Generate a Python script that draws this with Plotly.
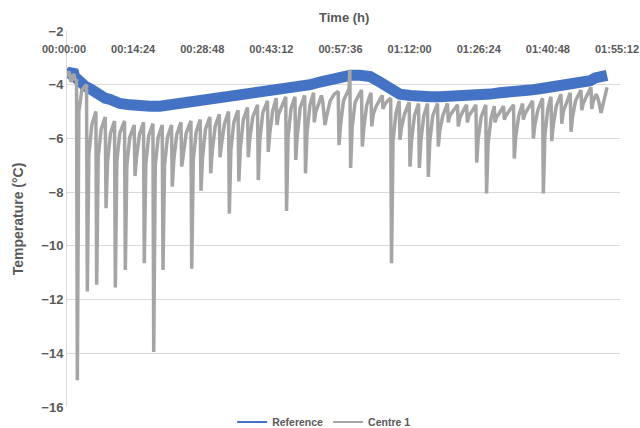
import plotly.graph_objects as go

# ---- data (time in seconds from start, temperature in °C) ----
ref_time = [0, 40, 75, 95, 160, 225, 290, 350, 410, 475, 540, 600, 660, 790,
            910, 1040, 1160, 1290, 1410, 1540, 1660, 1790, 1920, 2040, 2160,
            2290, 2410, 2540, 2660, 2790, 2910, 3040, 3160, 3290, 3410, 3540,
            3660, 3790, 3910, 4040, 4160, 4290, 4410, 4540, 4660, 4790, 4910,
            5040, 5160, 5290, 5410, 5540, 5660, 5790, 5910, 6040, 6160, 6290, 6410, 6540,
            6600, 6660, 6750]
ref_temp = [-3.75, -3.6, -3.45, -3.7, -3.9, -4.05, -4.15, -4.3, -4.4, -4.5, -4.55, -4.65,
            -4.7, -4.75, -4.8, -4.8, -4.8, -4.75, -4.7, -4.65, -4.6, -4.55,
            -4.5, -4.45, -4.4, -4.35, -4.3, -4.2, -4.15, -4.1,
            -4.05, -4.0, -3.9, -3.8, -3.7, -3.65, -3.65, -3.7, -3.9, -4.15, -4.35, -4.4,
            -4.45, -4.45, -4.45, -4.45, -4.4, -4.4, -4.35, -4.35, -4.3, -4.3,
            -4.25, -4.2, -4.15, -4.1, -4.0, -3.95, -3.9, -3.85, -3.75, -3.75, -3.65]

centre_time = [
    0, 25, 50, 85, 105, 119, 129, 148, 185, 244, 254, 273, 310, 361, 371, 390, 427,
    478, 488, 507, 544, 594, 604, 623, 660, 719, 729, 748, 785, 840, 850, 869, 906,
    956, 966, 985, 1022, 1074, 1084, 1103, 1140, 1190, 1200, 1219, 1256, 1306, 1316,
    1335, 1372, 1424, 1434, 1453, 1490, 1549, 1559, 1578, 1615, 1665, 1675, 1694,
    1731, 1786, 1796, 1815, 1852, 1903, 1913, 1932, 1969, 2019, 2029, 2048, 2085,
    2138, 2148, 2167, 2204, 2256, 2266, 2285, 2322, 2381, 2391, 2410, 2447, 2506,
    2516, 2535, 2572, 2615, 2625, 2644, 2681, 2734, 2744, 2763, 2800, 2849, 2859,
    2878, 2915, 2971, 2981, 3000, 3037, 3081, 3091, 3110, 3147, 3180, 3195, 3225,
    3250, 3290, 3340, 3390, 3400, 3419, 3456, 3525, 3535, 3545, 3564, 3601, 3681,
    3691, 3710, 3747, 3799, 3809, 3828, 3865, 3940, 3950, 3969, 4006, 4046, 4056,
    4075, 4112, 4152, 4162, 4181, 4218, 4277, 4287, 4306, 4343, 4394, 4404, 4423,
    4460, 4506, 4516, 4535, 4572, 4631, 4641, 4660, 4697, 4756, 4766, 4785, 4822,
    4881, 4891, 4910, 4947, 4994, 5004, 5023, 5060, 5111, 5121, 5140, 5177, 5234,
    5244, 5263, 5300, 5340, 5350, 5369, 5406, 5456, 5466, 5485, 5522, 5581, 5591,
    5610, 5647, 5694, 5704, 5723, 5760, 5819, 5829, 5848, 5885, 5944, 5954, 5973,
    6010, 6049, 6059, 6078, 6115, 6174, 6184, 6203, 6240, 6290, 6300, 6319, 6356,
    6424, 6434, 6453, 6490, 6549, 6559, 6578, 6615, 6645, 6675, 6700, 6725, 6750]
centre_temp = [
    -3.7, -3.5, -3.9, -3.6, -3.85, -3.8, -15.0, -5.0, -4.2, -4.0, -11.7, -6.6, -5.5,
    -5.0, -11.45, -6.7, -5.65, -5.2, -8.6, -6.85, -5.8, -5.35, -11.55, -6.85, -5.8,
    -5.35, -10.9, -7.0, -5.95, -5.5, -7.4, -6.7, -5.85, -5.4, -10.65, -6.95, -5.9,
    -5.45, -13.95, -7.0, -5.95, -5.5, -10.9, -7.0, -5.95, -5.5, -7.8, -6.8, -5.85,
    -5.4, -7.05, -6.55, -5.8, -5.35, -10.85, -6.8, -5.75, -5.3, -7.95, -6.7, -5.65,
    -5.2, -7.3, -6.5, -5.55, -5.1, -6.7, -6.2, -5.45, -5.0, -8.8, -6.45, -5.4, -4.95,
    -7.6, -6.35, -5.3, -4.85, -6.7, -6.0, -5.2, -4.75, -7.55, -6.1, -5.05, -4.6,
    -6.5, -5.8, -4.95, -4.5, -5.5, -5.1, -4.8, -4.45, -8.7, -5.95, -4.9, -4.45, -6.8,
    -5.9, -4.85, -4.4, -7.3, -5.8, -4.75, -4.3, -5.4, -5.0, -4.7, -4.4, -4.6, -5.5,
    -5.1, -4.6, -4.35, -4.25, -6.25, -5.5, -4.6, -4.15, -3.45, -7.1, -5.6, -4.65,
    -4.2, -6.3, -5.6, -4.75, -4.3, -5.55, -5.1, -4.8, -4.4, -4.9, -4.75, -4.6, -4.5,
    -10.65, -6.1, -5.05, -4.6, -6.05, -5.6, -5.1, -4.65, -7.05, -6.1, -5.15, -4.7,
    -7.1, -6.1, -5.15, -4.7, -7.43, -6.1, -5.15, -4.7, -6.3, -5.7, -5.15, -4.7, -5.4,
    -5.15, -5.0, -4.75, -5.55, -5.25, -5.0, -4.75, -5.4, -5.15, -5.0, -4.75, -6.9,
    -6.0, -5.2, -4.75, -8.05, -6.2, -5.25, -4.8, -5.4, -5.2, -5.05, -4.8, -5.3,
    -5.15, -5.0, -4.75, -6.75, -5.9, -5.15, -4.7, -5.3, -5.1, -4.9, -4.6, -6.0, -5.5,
    -4.95, -4.5, -8.05, -5.9, -4.9, -4.45, -6.1, -5.5, -4.8, -4.35, -5.45, -5.0,
    -4.7, -4.3, -5.75, -5.2, -4.6, -4.2, -4.95, -4.7, -4.45, -4.1, -4.9, -4.6, -4.35,
    -4.6, -5.05, -4.7, -4.3, -4.1]

tick_seconds = [0, 864, 1728, 2592, 3456, 4320, 5184, 6048, 6912]
tick_labels = ["00:00:00", "00:14:24", "00:28:48", "00:43:12", "00:57:36",
               "01:12:00", "01:26:24", "01:40:48", "01:55:12"]
y_ticks = [-2, -4, -6, -8, -10, -12, -14, -16]

BLUE = "#4472C4"
GREY = "#A5A5A5"
TXT = "#595959"
FONT = "Liberation Sans"

fig = go.Figure()
fig.add_trace(go.Scatter(x=ref_time, y=ref_temp, mode="lines", name="Reference",
                         line=dict(color=BLUE, width=11), showlegend=False))
fig.add_trace(go.Scatter(x=centre_time, y=centre_temp, mode="lines", name="Centre 1",
                         line=dict(color=GREY, width=3.5), showlegend=False))
# legend entries (thin line samples)
fig.add_trace(go.Scatter(x=[None], y=[None], mode="lines", name="Reference",
                         line=dict(color=BLUE, width=2)))
fig.add_trace(go.Scatter(x=[None], y=[None], mode="lines", name="Centre 1",
                         line=dict(color=GREY, width=2)))

fig.update_layout(
    width=640, height=428,
    margin=dict(l=67, r=20, t=31, b=21),
    paper_bgcolor="white", plot_bgcolor="white",
    font=dict(family=FONT, color=TXT, size=12),
    showlegend=True,
    legend=dict(orientation="h", x=0.465, xanchor="center",
                yref="container", y=0.014, yanchor="middle",
                font=dict(size=10.5, family=FONT, color=TXT, weight="bold"),
                itemwidth=30, bgcolor="rgba(0,0,0,0)"),
    annotations=[
        dict(text="<b>Time (h)</b>", xref="paper", yref="paper", x=0.5, y=1.037,
             showarrow=False, font=dict(size=13, family=FONT, color=TXT),
             xanchor="center", yanchor="middle"),
        dict(text="<b>Temperature (°C)</b>", xref="paper", yref="paper", x=-0.088,
             y=0.5, textangle=-90, showarrow=False,
             font=dict(size=14, family=FONT, color=TXT),
             xanchor="center", yanchor="middle"),
    ],
)
fig.update_xaxes(
    range=[0, 6912], side="top", anchor="free", position=0.935,
    tickvals=tick_seconds, ticktext=tick_labels, automargin=False,
    ticklabeloverflow="allow", ticklabelshift=-3,
    ticks="", showgrid=False, zeroline=False, showline=False,
    tickfont=dict(size=11, family=FONT, color=TXT, weight="bold"),
)
fig.update_yaxes(
    range=[-16, -2], tickvals=y_ticks, ticks="", showgrid=True, gridcolor="#D9D9D9",
    gridwidth=1, zeroline=False, showline=True, linecolor="#D9D9D9", linewidth=1,
    automargin=False,
    tickfont=dict(size=13, family=FONT, color=TXT, weight="bold"),
)

fig.write_html("out.html", config={"displayModeBar": False},
               post_script="document.body.style.margin='0';document.body.style.overflow='hidden';")
